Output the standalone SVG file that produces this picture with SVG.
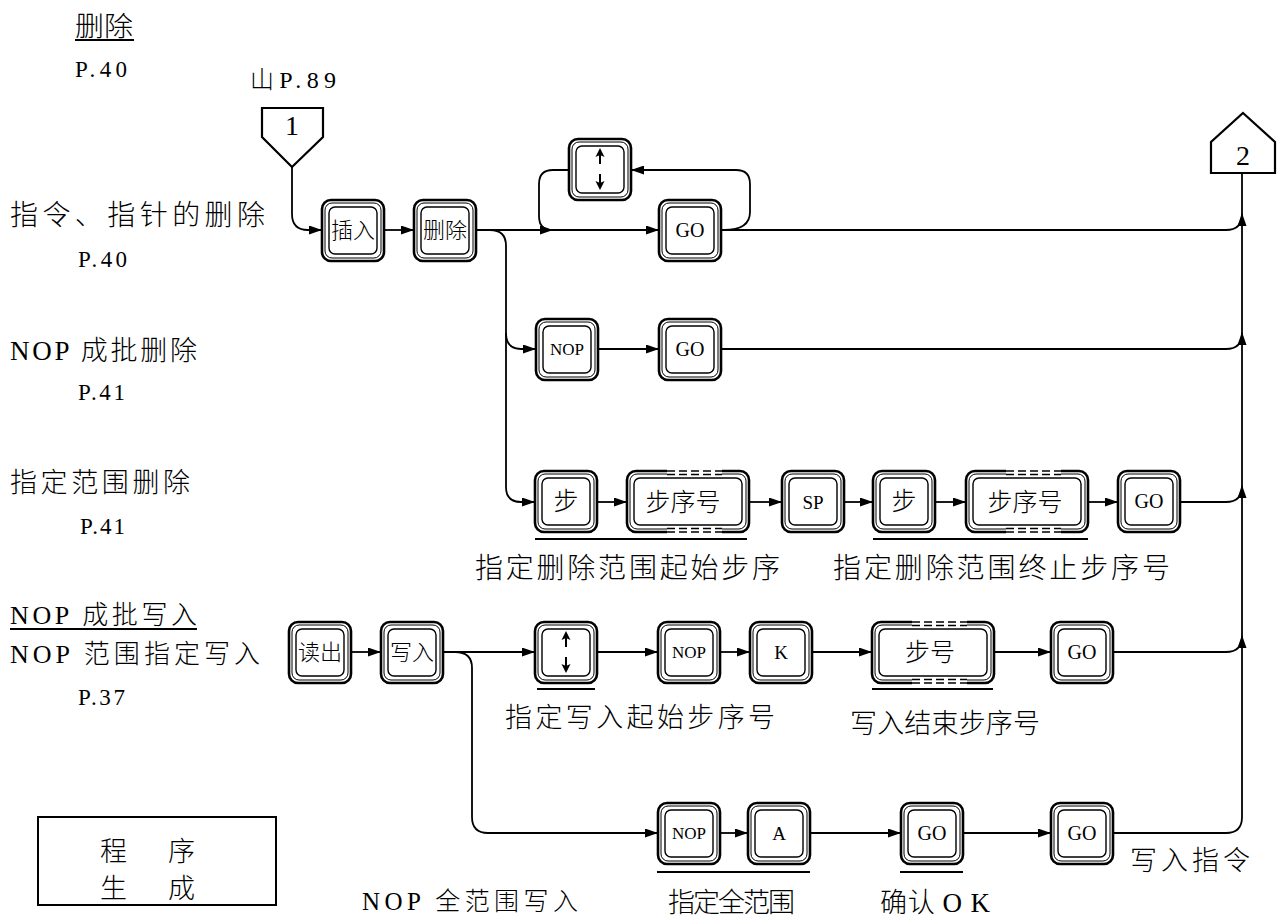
<svg xmlns="http://www.w3.org/2000/svg" xmlns:xlink="http://www.w3.org/1999/xlink" width="1279" height="920" viewBox="0 0 1279 920">
<style>
.k1{fill:#fff;stroke:#000;stroke-width:2.6}
.k2{fill:none;stroke:#000;stroke-width:1}
.k3{fill:none;stroke:#000;stroke-width:1.4}
.dsh{fill:none;stroke:#000;stroke-width:1.6;stroke-dasharray:8 4}
.ln{fill:none;stroke:#000;stroke-width:1.8}
.ar{marker-end:url(#ah)}
.t{font-family:'Noto Sans CJK SC',sans-serif;font-weight:300;fill:#000}
.l{font-family:'Liberation Serif',serif;font-weight:400}
.kl{font-family:'Liberation Serif',serif;fill:#000;text-anchor:middle}
.kc{font-family:'Noto Sans CJK SC',sans-serif;font-weight:300;fill:#000;text-anchor:middle}
.ic{fill:none;stroke:#000;stroke-width:2}
.sh{fill:#fff;stroke:#000;stroke-width:2.2}
</style>
<defs>
<marker id="ah" markerUnits="userSpaceOnUse" markerWidth="13" markerHeight="9" refX="12" refY="4.5" orient="auto">
<path d="M0,0 L13,4.5 L0,9 z" fill="#000"/>
</marker>
<g id="keyS"><rect class="k1" x="0" y="0" width="62" height="61" rx="9"/><rect class="k2" x="3" y="3" width="56" height="55" rx="7"/><rect class="k3" x="7" y="7" width="48" height="47" rx="6"/></g>
<g id="keyW"><rect class="k1" x="0" y="0" width="122" height="61" rx="9"/><rect class="k2" x="3" y="3" width="116" height="55" rx="7"/><rect class="k3" x="7" y="7" width="108" height="47" rx="6"/><rect x="40" y="-3" width="55" height="8" fill="#fff"/><rect x="40" y="56" width="55" height="8" fill="#fff"/><path class="dsh" d="M40 0H95M40 3.5H95M40 57.5H95M40 61H95"/></g>
<g id="udArrow"><path class="ic" d="M0,-19 V-5 M0,5 V19"/><path d="M0,-21 L-4.5,-12 L0,-14 L4.5,-12 z M0,21 L-4.5,12 L0,14 L4.5,12 z" fill="#000"/></g>
</defs>
<rect width="1279" height="920" fill="#fff"/>

<g id="left-labels">
<text class="t" x="75" y="36" font-size="27" textLength="58" lengthAdjust="spacingAndGlyphs">删除</text>
<path class="ln" d="M75,40 H134" stroke-width="1.5"/>
<text class="t l" x="75" y="77" font-size="23" textLength="52" lengthAdjust="spacing">P.40</text>
<text class="t" x="10" y="225" font-size="28" textLength="255" lengthAdjust="spacing">指令、指针的删除</text>
<text class="t l" x="78" y="267" font-size="23" textLength="49" lengthAdjust="spacing">P.40</text>
<text class="t" x="10" y="360" font-size="27" textLength="187" lengthAdjust="spacing"><tspan class="l">NOP</tspan> 成批删除</text>
<text class="t l" x="78" y="400" font-size="23" textLength="47" lengthAdjust="spacing">P.41</text>
<text class="t" x="10" y="492" font-size="27" textLength="180" lengthAdjust="spacing">指定范围删除</text>
<text class="t l" x="80" y="534" font-size="23" textLength="45" lengthAdjust="spacing">P.41</text>
<text class="t" x="10" y="624" font-size="26" textLength="187" lengthAdjust="spacing"><tspan class="l">NOP</tspan> 成批写入</text>
<path class="ln" d="M10,629 H197" stroke-width="1.5"/>
<text class="t" x="10" y="663" font-size="26" textLength="250" lengthAdjust="spacing"><tspan class="l">NOP</tspan> 范围指定写入</text>
<text class="t l" x="78" y="705" font-size="23" textLength="47" lengthAdjust="spacing">P.37</text>
</g>

<g id="program-box">
<rect x="38" y="817" width="238" height="88" fill="#fff" stroke="#000" stroke-width="2"/>
<text class="t" x="100" y="861" font-size="27" textLength="95" lengthAdjust="spacing">程 序</text>
<text class="t" x="100" y="898" font-size="27" textLength="95" lengthAdjust="spacing">生 成</text>
</g>

<g id="connectors">
<path class="ln ar" d="M292,167 V214 Q292,230 308,230 H321"/>
<path class="ln ar" d="M384,230 H413"/>
<path class="ln ar" d="M476,230 H658"/>
<path class="ln ar" d="M721,230 H1226 Q1242,230 1242,214"/>
<path class="ln ar" d="M724,230 Q750,230 750,212 V184 Q750,170 736,170 H632"/>
<path class="ln ar" d="M569,170 H553 Q539,170 539,184 V216 Q539,230 552,230"/>
<path class="ln ar" d="M490,230 Q506,230 506,246 V487 Q506,502 521,502 H534"/>
<path class="ln ar" d="M506,333 Q506,349 521,349 H535"/>
<path class="ln ar" d="M598,349 H658"/>
<path class="ln ar" d="M721,349 H1226 Q1242,349 1242,333"/>
<path class="ln ar" d="M597,502 H626"/>
<path class="ln ar" d="M749,502 H781"/>
<path class="ln ar" d="M844,502 H872"/>
<path class="ln ar" d="M935,502 H965"/>
<path class="ln ar" d="M1088,502 H1117"/>
<path class="ln ar" d="M1180,502 H1226 Q1242,502 1242,486"/>
<path class="ln ar" d="M351,652 H380"/>
<path class="ln ar" d="M443,652 H534"/>
<path class="ln ar" d="M597,652 H657"/>
<path class="ln ar" d="M720,652 H749"/>
<path class="ln ar" d="M812,652 H871"/>
<path class="ln ar" d="M994,652 H1050"/>
<path class="ln ar" d="M1113,652 H1226 Q1242,652 1242,636"/>
<path class="ln ar" d="M455,652 Q472,652 472,668 V817 Q472,833 488,833 H657"/>
<path class="ln ar" d="M720,833 H747"/>
<path class="ln ar" d="M810,833 H900"/>
<path class="ln ar" d="M963,833 H1050"/>
<path class="ln" d="M1113,833 H1226 Q1242,833 1242,817 V173"/>
<path class="ln" stroke-width="1.6" d="M535,539 H747 M873,539 H1088 M537,689 H595 M872,689 H993 M657,872 H810 M900,872 H963"/>
</g>

<g id="off-page-1">
<polygon class="sh" points="262,108 323,108 323,137 292,167 262,137"/>
<text class="kl" x="292" y="135" font-size="28">1</text>
<text class="t" x="250" y="88" font-size="24" textLength="86" lengthAdjust="spacing">山<tspan class="l">P.89</tspan></text>
</g>
<g id="off-page-2">
<polygon class="sh" points="1243,113 1275,142 1275,173 1211,173 1211,142"/>
<text class="kl" x="1243" y="165" font-size="28">2</text>
</g>

<g id="key-insert"><use xlink:href="#keyS" x="322" y="200"/><text class="kc" x="353" y="238" font-size="22">插入</text></g>
<g id="key-delete"><use xlink:href="#keyS" x="414" y="200"/><text class="kc" x="445" y="238" font-size="22">删除</text></g>
<g id="key-updown-1"><use xlink:href="#keyS" x="569" y="139"/><use xlink:href="#udArrow" x="600" y="169"/></g>
<g id="key-go-1"><use xlink:href="#keyS" x="659" y="200"/><text class="kl" x="690" y="237" font-size="20">GO</text></g>

<g id="key-nop-2"><use xlink:href="#keyS" x="536" y="319"/><text class="kl" x="567" y="355" font-size="17">NOP</text></g>
<g id="key-go-2"><use xlink:href="#keyS" x="659" y="319"/><text class="kl" x="690" y="356" font-size="20">GO</text></g>

<g id="key-step-3a"><use xlink:href="#keyS" x="535" y="471"/><text class="kc" x="566" y="510" font-size="25">步</text></g>
<g id="key-stepno-3a"><use xlink:href="#keyW" x="627" y="471"/><text class="kc" x="683" y="511" font-size="25">步序号</text></g>
<g id="key-sp"><use xlink:href="#keyS" x="782" y="471"/><text class="kl" x="813" y="509" font-size="19">SP</text></g>
<g id="key-step-3b"><use xlink:href="#keyS" x="873" y="471"/><text class="kc" x="904" y="510" font-size="25">步</text></g>
<g id="key-stepno-3b"><use xlink:href="#keyW" x="966" y="471"/><text class="kc" x="1025" y="511" font-size="25">步序号</text></g>
<g id="key-go-3"><use xlink:href="#keyS" x="1118" y="471"/><text class="kl" x="1149" y="508" font-size="20">GO</text></g>

<g id="key-read"><use xlink:href="#keyS" x="289" y="622"/><text class="kc" x="320" y="660" font-size="22">读出</text></g>
<g id="key-write"><use xlink:href="#keyS" x="381" y="622"/><text class="kc" x="412" y="660" font-size="22">写入</text></g>
<g id="key-updown-4"><use xlink:href="#keyS" x="535" y="622"/><use xlink:href="#udArrow" x="566" y="652"/></g>
<g id="key-nop-4"><use xlink:href="#keyS" x="658" y="622"/><text class="kl" x="689" y="658" font-size="17">NOP</text></g>
<g id="key-k"><use xlink:href="#keyS" x="750" y="622"/><text class="kl" x="781" y="659" font-size="19">K</text></g>
<g id="key-stepno-4"><use xlink:href="#keyW" x="872" y="622"/><text class="kc" x="930" y="661" font-size="25">步号</text></g>
<g id="key-go-4"><use xlink:href="#keyS" x="1051" y="622"/><text class="kl" x="1082" y="659" font-size="20">GO</text></g>

<g id="key-nop-5"><use xlink:href="#keyS" x="658" y="803"/><text class="kl" x="689" y="839" font-size="17">NOP</text></g>
<g id="key-a"><use xlink:href="#keyS" x="748" y="803"/><text class="kl" x="779" y="840" font-size="19">A</text></g>
<g id="key-go-5a"><use xlink:href="#keyS" x="901" y="803"/><text class="kl" x="932" y="840" font-size="20">GO</text></g>
<g id="key-go-5b"><use xlink:href="#keyS" x="1051" y="803"/><text class="kl" x="1082" y="840" font-size="20">GO</text></g>

<g id="row-labels">
<text class="t" x="475" y="578" font-size="28" textLength="305" lengthAdjust="spacing">指定删除范围起始步序</text>
<text class="t" x="833" y="578" font-size="28" textLength="337" lengthAdjust="spacing">指定删除范围终止步序号</text>
<text class="t" x="505" y="727" font-size="27" textLength="270" lengthAdjust="spacing">指定写入起始步序号</text>
<text class="t" x="850" y="733" font-size="27" textLength="190" lengthAdjust="spacing">写入结束步序号</text>
<text class="t" x="362" y="910" font-size="25" textLength="216" lengthAdjust="spacing"><tspan class="l">NOP</tspan> 全范围写入</text>
<text class="t" x="668" y="912" font-size="27" textLength="127" lengthAdjust="spacing">指定全范围</text>
<text class="t" x="880" y="912" font-size="27" textLength="110" lengthAdjust="spacing">确认 <tspan class="l">O K</tspan></text>
<text class="t" x="1130" y="870" font-size="27" textLength="120" lengthAdjust="spacing">写入指令</text>
</g>
</svg>
